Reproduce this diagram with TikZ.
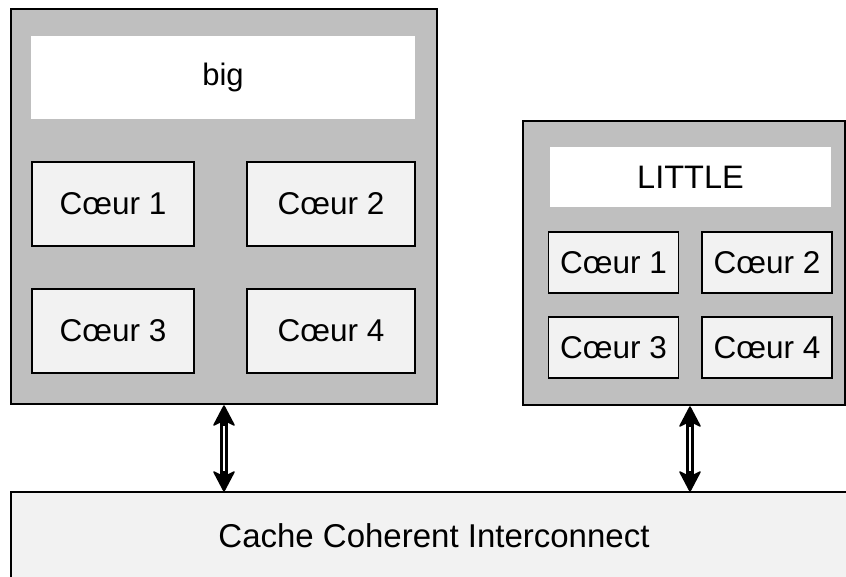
\documentclass[tikz,border=0pt]{standalone}
\usepackage{fontspec}
\setmainfont{Liberation Sans}
\definecolor{clustergray}{HTML}{BFBFBF}
\definecolor{corefill}{HTML}{F2F2F2}
\begin{document}
\begin{tikzpicture}[x=1pt,y=-1pt,
  cluster/.style={draw=black, line width=2pt, fill=clustergray, inner sep=0pt, outer sep=0pt},
  banner/.style={fill=white, inner sep=0pt, outer sep=0pt},
  corebox/.style={draw=black, line width=1.6pt, fill=corefill, inner sep=0pt, outer sep=0pt},
  bus/.style={draw=black, line width=2.5pt, fill=corefill, inner sep=0pt, outer sep=0pt},
  linkhead/.style={fill=black, draw=black, line width=1.5pt, line join=round},
  linkshaft/.style={draw=black, line width=8pt, shorten <=12pt, shorten >=12pt},
  linkgap/.style={draw=white, line width=2pt, shorten <=20pt, shorten >=20pt}
]
\useasboundingbox (0,0) rectangle (846,576);
\clip (0,0) rectangle (846,576);

% big cluster
\node[cluster, minimum width=426, minimum height=395] (big) at (224,206.5) {};
\node[banner, minimum width=384, minimum height=83, font=\fontsize{31}{36}\selectfont] (bigname) at (223,77.5) {big};
\begin{scope}[every node/.style={corebox, minimum height=84, font=\fontsize{31.5}{36}\selectfont}]
  \node[minimum width=162] (b1) at (113,204) {Cœur 1};
  \node[minimum width=168] (b2) at (331,204) {Cœur 2};
  \node[minimum width=162] (b3) at (113,331) {Cœur 3};
  \node[minimum width=168] (b4) at (331,331) {Cœur 4};
\end{scope}

% LITTLE cluster
\node[cluster, minimum width=322, minimum height=284] (little) at (684,263) {};
\node[banner, minimum width=281, minimum height=60, font=\fontsize{32.5}{38}\selectfont] (littlename) at (690.5,177) {LITTLE};
\begin{scope}[every node/.style={corebox, minimum width=130, minimum height=61, font=\fontsize{31.5}{36}\selectfont}]
  \node (l1) at (613.5,262.5) {Cœur 1};
  \node (l2) at (767,262.5) {Cœur 2};
  \node (l3) at (613.5,347.5) {Cœur 3};
  \node (l4) at (767,347.5) {Cœur 4};
\end{scope}

% interconnect
\node[bus, minimum width=846, minimum height=88, font=\fontsize{33}{38}\selectfont] (cci) at (434,536) {Cache Coherent Interconnect};

% links: double-lined shaft with a solid head at each end
\coordinate (bigport) at (224,406);
\coordinate (littleport) at (690,407);
\coordinate (bigbus) at (224,491);
\coordinate (littlebus) at (690,491);
\foreach \a/\b in {bigport/bigbus, littleport/littlebus} {
  \draw[linkshaft] (\a) -- (\b);
  \draw[linkgap] (\a) -- (\b);
  \path[linkhead] (\a) -- ++(10,19) -- ++(-10,-5) -- ++(-10,5) -- cycle;
  \path[linkhead] (\b) -- ++(10,-19) -- ++(-10,5) -- ++(-10,-5) -- cycle;
}
\end{tikzpicture}
\end{document}
